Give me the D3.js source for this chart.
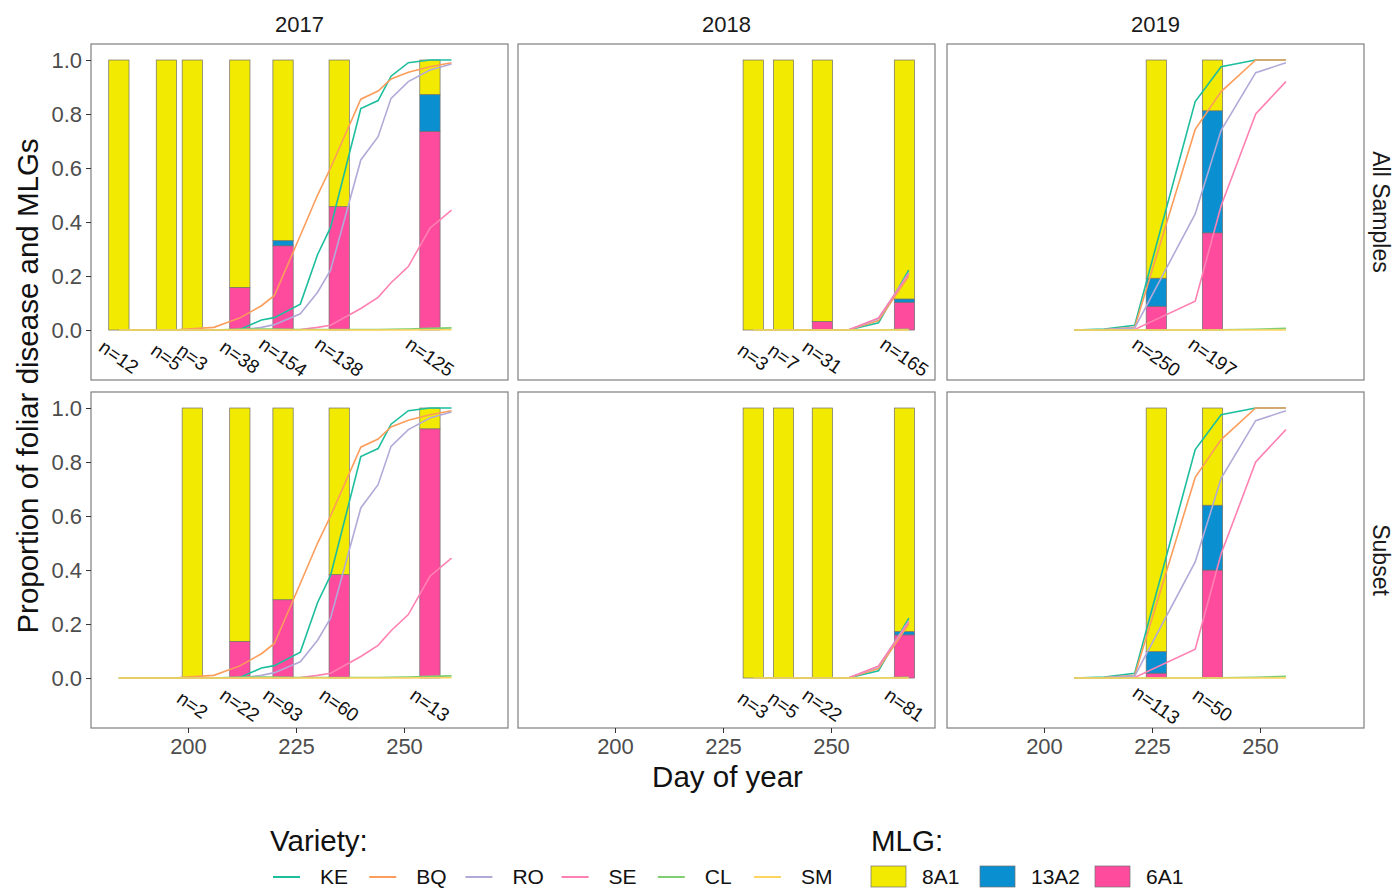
<!DOCTYPE html>
<html><head><meta charset="utf-8">
<script src="https://cdn.jsdelivr.net/npm/d3@7"></script>
<style>
body{margin:0;background:#fff;}
text{font-family:"Liberation Sans",Arial,Helvetica,sans-serif;}
</style>
</head><body>
<svg id="chart" width="1393" height="888"></svg>
<script>
// ---------------- DATA ----------------
const years = ["2017", "2018", "2019"];
const sampleSets = ["All Samples", "Subset"];
const varieties = ["KE", "BQ", "RO", "SE", "CL", "SM"];
const varietyColors = ["#1DBE9E", "#FC9D5B", "#B1AAD8", "#FF80B2", "#7FCE72", "#FFD45E"];
const mlgs = ["8A1", "13A2", "6A1"];
const mlgColors = ["#F2EA00", "#0A8FD1", "#FF4B9E"];
const xTicks = [200, 225, 250];
const yTicks = [0, 0.2, 0.4, 0.6, 0.8, 1.0];

// Disease progress (proportion of foliar disease), rows follow `varieties`
const days2017 = [184, 198, 206, 212, 217, 220, 226, 230, 233, 240, 244, 247, 251, 256, 261];
const disease2017 = [
  [0, 0, 0, 0.002, 0.037, 0.046, 0.096, 0.28, 0.38, 0.82, 0.85, 0.94, 0.99, 1.0, 1.0],
  [0, 0.002, 0.01, 0.045, 0.09, 0.128, 0.35, 0.5, 0.6, 0.855, 0.885, 0.93, 0.955, 0.975, 0.99],
  [0, 0, 0, 0, 0.01, 0.02, 0.06, 0.14, 0.222, 0.63, 0.716, 0.858, 0.92, 0.963, 0.985],
  [0, 0, 0, 0, 0, 0, 0.002, 0.01, 0.018, 0.08, 0.121, 0.175, 0.235, 0.377, 0.444],
  [0, 0, 0, 0.004, 0.004, 0.004, 0.002, 0.002, 0.002, 0.002, 0.002, 0.003, 0.004, 0.006, 0.008],
  [0, 0, 0, 0, 0, 0, 0, 0, 0, 0, 0, 0, 0, 0.001, 0.001]
];
const days2018 = [232, 239, 248, 254, 261, 268];
const disease2018 = [
  [0, 0, 0, 0, 0.027, 0.222],
  [0, 0, 0, 0, 0.035, 0.2],
  [0, 0, 0, 0, 0.042, 0.212],
  [0, 0, 0, 0, 0.045, 0.208],
  [0, 0, 0, 0, 0, 0.003],
  [0, 0, 0, 0, 0, 0]
];
const days2019 = [207, 214, 221, 235, 241, 249, 256];
const disease2019 = [
  [0, 0.004, 0.018, 0.846, 0.975, 1.0, 1.0],
  [0, 0.002, 0.01, 0.743, 0.883, 1.0, 1.0],
  [0, 0.002, 0.008, 0.43, 0.74, 0.953, 0.99],
  [0, 0, 0.002, 0.107, 0.46, 0.8, 0.92],
  [0, 0, 0, 0, 0.001, 0.003, 0.006],
  [0, 0, 0, 0, 0, 0, 0]
];

// MLG proportions per sampling day
const barDays2017All = [184, 195, 201, 212, 222, 235, 256];
const n2017All = [12, 5, 3, 38, 154, 138, 125];
const p8A1_2017All = [1, 1, 1, 0.842, 0.669, 0.543, 0.128];
const p13A2_2017All = [0, 0, 0, 0, 0.019, 0, 0.136];
const p6A1_2017All = [0, 0, 0, 0.158, 0.312, 0.457, 0.736];

const barDays2017Sub = [201, 212, 222, 235, 256];
const n2017Sub = [2, 22, 93, 60, 13];
const p8A1_2017Sub = [1, 0.864, 0.71, 0.617, 0.077];
const p13A2_2017Sub = [0, 0, 0, 0, 0];
const p6A1_2017Sub = [0, 0.136, 0.29, 0.383, 0.923];

const barDays2018All = [232, 239, 248, 267];
const n2018All = [3, 7, 31, 165];
const p8A1_2018All = [1, 1, 0.968, 0.885];
const p13A2_2018All = [0, 0, 0, 0.012];
const p6A1_2018All = [0, 0, 0.032, 0.103];

const barDays2018Sub = [232, 239, 248, 267];
const n2018Sub = [3, 5, 22, 81];
const p8A1_2018Sub = [1, 1, 1, 0.828];
const p13A2_2018Sub = [0, 0, 0, 0.012];
const p6A1_2018Sub = [0, 0, 0, 0.16];

const barDays2019All = [226, 239];
const n2019All = [250, 197];
const p8A1_2019All = [0.808, 0.188];
const p13A2_2019All = [0.104, 0.452];
const p6A1_2019All = [0.088, 0.36];

const barDays2019Sub = [226, 239];
const n2019Sub = [113, 50];
const p8A1_2019Sub = [0.902, 0.36];
const p13A2_2019Sub = [0.08, 0.24];
const p6A1_2019Sub = [0.018, 0.4];

// ---------------- LAYOUT ----------------
const colX = [91, 518, 947];
const rowY = [44, 392];
const panelW = 417, panelH = 336;
const barWidthDays = 4.7;
const labelY = -0.1;

const diseaseByYear = {
  "2017": {days: days2017, vals: disease2017},
  "2018": {days: days2018, vals: disease2018},
  "2019": {days: days2019, vals: disease2019}
};
const barsByPanel = {
  "2017|All Samples": [barDays2017All, n2017All, p8A1_2017All, p13A2_2017All, p6A1_2017All],
  "2017|Subset": [barDays2017Sub, n2017Sub, p8A1_2017Sub, p13A2_2017Sub, p6A1_2017Sub],
  "2018|All Samples": [barDays2018All, n2018All, p8A1_2018All, p13A2_2018All, p6A1_2018All],
  "2018|Subset": [barDays2018Sub, n2018Sub, p8A1_2018Sub, p13A2_2018Sub, p6A1_2018Sub],
  "2019|All Samples": [barDays2019All, n2019All, p8A1_2019All, p13A2_2019All, p6A1_2019All],
  "2019|Subset": [barDays2019Sub, n2019Sub, p8A1_2019Sub, p13A2_2019Sub, p6A1_2019Sub]
};

const svg = d3.select("#chart");
const x = d3.scaleLinear().domain([177.55, 274.07]).range([0, panelW]);
const y = d3.scaleLinear().domain([-0.185, 1.0593]).range([panelH, 0]);
const mlgColor = d3.scaleOrdinal().domain(mlgs).range(mlgColors);
const varColor = d3.scaleOrdinal().domain(varieties).range(varietyColors);
const stack = d3.stack().keys(["6A1", "13A2", "8A1"]);
const line = d3.line().x(d => x(d[0])).y(d => y(d[1]));

sampleSets.forEach((set, ri) => {
  years.forEach((yr, ci) => {
    const g = svg.append("g").attr("transform", `translate(${colX[ci]},${rowY[ri]})`);
    g.append("rect").attr("width", panelW).attr("height", panelH).attr("fill", "#fff");

    // bars
    const [bd, bn, b8, b13, b6] = barsByPanel[yr + "|" + set];
    const table = bd.map((d, i) => ({day: d, n: bn[i], "8A1": b8[i], "13A2": b13[i], "6A1": b6[i]}));
    const series = stack(table);
    series.forEach(s => {
      g.append("g").selectAll("rect")
        .data(s.filter(d => d[1] - d[0] > 0.0005))
        .join("rect")
        .attr("x", d => x(d.data.day - barWidthDays / 2))
        .attr("width", d => x(d.data.day + barWidthDays / 2) - x(d.data.day - barWidthDays / 2))
        .attr("y", d => y(d[1]))
        .attr("height", d => y(d[0]) - y(d[1]))
        .attr("fill", mlgColor(s.key))
        .attr("stroke", "#6f6f6f")
        .attr("stroke-width", 0.7);
    });

    // disease lines
    const dis = diseaseByYear[yr];
    varieties.forEach((v, vi) => {
      g.append("path")
        .datum(dis.days.map((d, i) => [d, dis.vals[vi][i]]))
        .attr("d", line)
        .attr("fill", "none")
        .attr("stroke", varColor(v))
        .attr("stroke-width", 1.6);
    });

    // n labels
    g.append("g").selectAll("text").data(table).join("text")
      .attr("transform", d => `translate(${x(d.day)},${y(labelY)}) rotate(35)`)
      .attr("text-anchor", "middle")
      .attr("dominant-baseline", "central")
      .attr("font-size", 19)
      .attr("fill", "#111")
      .text(d => "n=" + d.n);

    // border
    g.append("rect").attr("width", panelW).attr("height", panelH)
      .attr("fill", "none").attr("stroke", "#7f7f7f").attr("stroke-width", 1.2);

    // axes
    if (ci === 0) {
      const ax = g.append("g").call(d3.axisLeft(y).tickValues(yTicks).tickFormat(d3.format(".1f")).tickSize(5).tickPadding(4));
      ax.select(".domain").remove();
      ax.selectAll("line").attr("stroke", "#333");
      ax.selectAll("text").attr("font-size", 22).attr("fill", "#4d4d4d").attr("font-family", "Liberation Sans, Arial, sans-serif");
    }
    if (ri === 1) {
      const ax = g.append("g").attr("transform", `translate(0,${panelH})`)
        .call(d3.axisBottom(x).tickValues(xTicks).tickSize(5).tickPadding(5));
      ax.select(".domain").remove();
      ax.selectAll("line").attr("stroke", "#333");
      ax.selectAll("text").attr("font-size", 22).attr("fill", "#4d4d4d").attr("font-family", "Liberation Sans, Arial, sans-serif");
    }
    // strips
    if (ri === 0) {
      svg.append("text").attr("x", colX[ci] + panelW / 2).attr("y", 32)
        .attr("text-anchor", "middle").attr("font-size", 22).attr("fill", "#1a1a1a").text(yr);
    }
    if (ci === 2) {
      svg.append("text")
        .attr("transform", `translate(1373,${rowY[ri] + panelH / 2}) rotate(90)`)
        .attr("text-anchor", "middle").attr("font-size", 23).attr("fill", "#1a1a1a").text(set);
    }
  });
});

// axis titles
svg.append("text").attr("transform", `translate(38,${(rowY[0] + rowY[1] + panelH) / 2}) rotate(-90)`)
  .attr("text-anchor", "middle").attr("font-size", 29.5).attr("fill", "#111")
  .text("Proportion of foliar disease and MLGs");
svg.append("text").attr("x", (colX[0] + colX[2] + panelW) / 2).attr("y", 787)
  .attr("text-anchor", "middle").attr("font-size", 29.5).attr("fill", "#111").text("Day of year");

// legends
svg.append("text").attr("x", 270).attr("y", 851).attr("font-size", 29.5).attr("fill", "#111").text("Variety:");
const vLeg = svg.append("g").selectAll("g").data(varieties).join("g")
  .attr("transform", (d, i) => `translate(${273 + i * 96.2},877)`);
vLeg.append("line").attr("x1", 0).attr("x2", 27).attr("stroke", d => varColor(d)).attr("stroke-width", 2);
vLeg.append("text").attr("x", 47).attr("y", 6.5).attr("font-size", 21).attr("fill", "#111").text(d => d);

svg.append("text").attr("x", 871).attr("y", 851).attr("font-size", 29.5).attr("fill", "#111").text("MLG:");
const mlgLegX = [871, 980, 1095];
const mLeg = svg.append("g").selectAll("g").data(mlgs).join("g")
  .attr("transform", (d, i) => `translate(${mlgLegX[i]},866)`);
mLeg.append("rect").attr("width", 35).attr("height", 21).attr("fill", d => mlgColor(d))
  .attr("stroke", "#6f6f6f").attr("stroke-width", 0.7);
mLeg.append("text").attr("x", 51).attr("y", 17.5).attr("font-size", 21).attr("fill", "#111").text(d => d);
</script>
</body></html>
